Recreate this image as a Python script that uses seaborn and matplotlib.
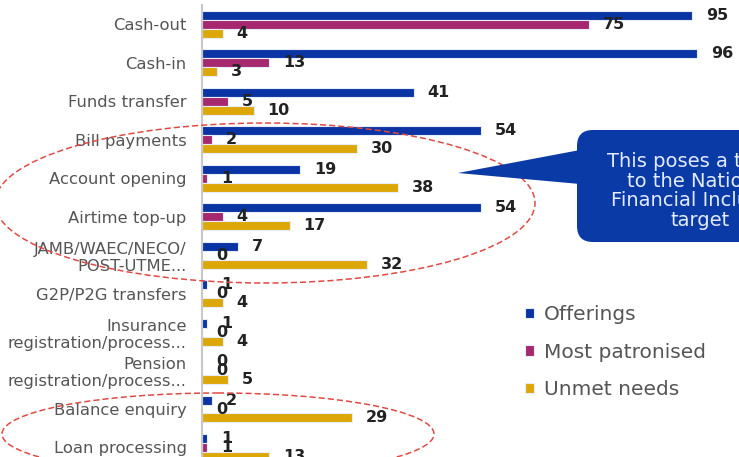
import numpy as np
import pandas as pd
import matplotlib
matplotlib.use("Agg")
import matplotlib.pyplot as plt
import matplotlib.patches as patches
import seaborn as sns

categories = ["Cash-out", "Cash-in", "Funds transfer", "Bill payments",
              "Account opening", "Airtime top-up", "JAMB/WAEC/NECO/\nPOST-UTME...",
              "G2P/P2G transfers", "Insurance\nregistration/process...",
              "Pension\nregistration/process...", "Balance enquiry", "Loan processing"]
offerings = [95, 96, 41, 54, 19, 54, 7, 1, 1, 0, 2, 1]
most_patronised = [75, 13, 5, 2, 1, 4, 0, 0, 0, 0, 0, 1]
unmet_needs = [4, 3, 10, 30, 38, 17, 32, 4, 4, 5, 29, 13]
series_names = ["Offerings", "Most patronised", "Unmet needs"]
colors = ["#0a34a3", "#a6286f", "#dea708"]

df = pd.DataFrame({"category": categories,
                   "Offerings": offerings,
                   "Most patronised": most_patronised,
                   "Unmet needs": unmet_needs})
df_long = df.melt(id_vars="category", var_name="series", value_name="value")

sns.set_style("white")
plt.rcParams['font.family'] = ['DejaVu Sans']

W, H = 739, 457
fig = plt.figure(figsize=(W / 100, H / 100), dpi=100)

# axes placed in pixels so the chart is cropped like the screenshot
ax_left, ax_right = 202, 718
first_y, step = 24.5, 38.45
top_px = first_y - step * 0.5
ax = fig.add_axes([ax_left / W, 0, (ax_right - ax_left) / W, (H - top_px) / H])

sns.barplot(data=df_long, y="category", x="value", hue="series",
            hue_order=series_names, palette=colors, order=categories,
            orient="h", width=0.70, edgecolor="#e6edf8", linewidth=0.8,
            saturation=1, ax=ax)

for cont in ax.containers:
    ax.bar_label(cont, padding=10, fontsize=11.5, fontweight="bold", color="#222222")

ax.set_xlim(0, 100)
ax.set_ylim((H - first_y) / step, -0.5)
ax.set_xlabel("")
ax.set_ylabel("")
ax.set_xticks([])
ax.tick_params(axis="y", length=0, labelsize=11.8, labelcolor="#555555", pad=11)
for s in ["top", "right", "bottom"]:
    ax.spines[s].set_visible(False)
ax.spines["left"].set_color("#c8c8c8")
ax.spines["left"].set_linewidth(1.5)

ax.legend(loc="upper left", bbox_to_anchor=(507 / W, 1 - 287 / H),
          bbox_transform=fig.transFigure, frameon=False, fontsize=14.5,
          labelcolor="#555555", handlelength=0.42, handleheight=0.42,
          handletextpad=0.5, labelspacing=0.92)

# overlay in pixel coordinates for the annotations
ov = fig.add_axes([0, 0, 1, 1], zorder=5)
ov.set_xlim(0, W)
ov.set_ylim(H, 0)
ov.axis("off")

red = "#e04a44"
ov.add_patch(patches.Ellipse((265, 203), 540, 160, fill=False, edgecolor=red,
                             linestyle=(0, (4, 2)), linewidth=1.1))
ov.add_patch(patches.Ellipse((218, 434), 432, 82, fill=False, edgecolor=red,
                             linestyle=(0, (4, 2)), linewidth=1.1))

box_col = "#0a3aa6"
ov.add_patch(patches.FancyBboxPatch((577, 130), 200, 112,
                                    boxstyle="round,pad=0,rounding_size=16",
                                    facecolor=box_col, edgecolor="none"))
ov.add_patch(patches.Polygon([(458, 173), (580, 150), (580, 184)],
                             closed=True, facecolor=box_col, edgecolor="none"))
ov.text(700, 191, "This poses a threat\nto the National\nFinancial Inclusion\ntarget",
        color="#e3ebff", fontsize=14, ha="center", va="center", linespacing=1.03)

fig.text(370 / W, 1 + 10 / H, "Service offerings and usage (%)", fontsize=15,
         ha="center", va="center", color="#333333")

fig.savefig("out.png", dpi=100)
